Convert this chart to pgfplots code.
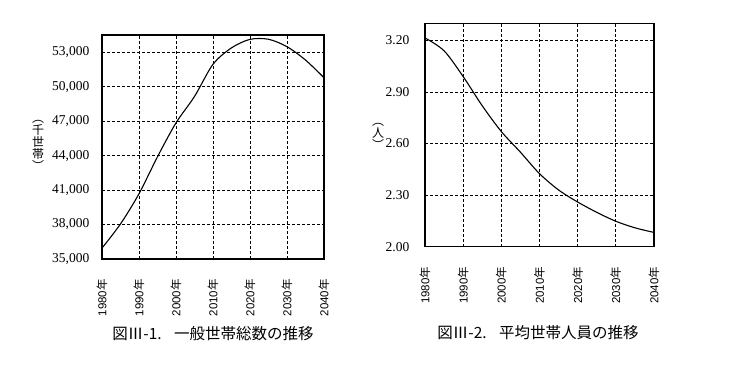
\documentclass[border=0pt]{standalone}
\usepackage{fontspec}
\setmainfont{Liberation Serif}
\newfontfamily\cjk{Noto Sans CJK JP}
\newfontfamily\sans{Liberation Sans}
\usepackage{pgfplots}
\pgfplotsset{compat=1.18}
\pgfplotstableread{
year households
1980 35950
1985 38050
1990 40680
1995 43900
2000 46850
2005 49150
2010 51950
2015 53380
2020 54120
2025 54130
2030 53480
2035 52320
2040 50780
}\tableA
\pgfplotstableread{
year size
1980 3.215
1985 3.14
1990 2.99
1995 2.82
2000 2.67
2005 2.55
2010 2.425
2015 2.33
2020 2.26
2025 2.20
2030 2.148
2035 2.11
2040 2.083
}\tableB
\pgfplotsset{
  common/.style={
    scale only axis,
    anchor=south west,
    xmin=1980, xmax=2040,
    xtick={1980,1990,...,2040},
    xticklabels={1980{\cjk 年},1990{\cjk 年},2000{\cjk 年},2010{\cjk 年},2020{\cjk 年},2030{\cjk 年},2040{\cjk 年}},
    xticklabel style={rotate=90, anchor=east, inner sep=0pt, xshift=-20bp, font=\sans\fontsize{11.5bp}{12bp}\selectfont},
    yticklabel style={anchor=east, inner sep=0pt, font=\fontsize{13.5bp}{14bp}\selectfont},
    /pgf/number format/assume math mode=true,
    scaled ticks=false,
    grid=major,
    major grid style={black, line width=0.8bp, dash pattern=on 3bp off 2bp},
    axis line style={black, line width=1.2bp},
    major tick length=0pt,
  }
}
\begin{document}
\begin{tikzpicture}
\path[use as bounding box] (0,0) rectangle (750bp,375bp);
\begin{axis}[common,
  at={(102bp,116bp)}, width=222bp, height=224bp,
  ymin=35000, ymax=54500,
  ytick={35000,38000,...,53000},
  yticklabel style={xshift=-12.5bp, /pgf/number format/.cd, fixed, 1000 sep={,}},
]
\addplot[black, line width=1.1bp, smooth] table[x=year, y=households] {\tableA};
\end{axis}
\begin{axis}[common,
  at={(425bp,128.3bp)}, width=229bp, height=223.4bp,
  ymin=2.0, ymax=3.3,
  ytick={2.0,2.3,2.6,2.9,3.2},
  yticklabel style={xshift=-15.5bp, /pgf/number format/.cd, fixed, fixed zerofill, precision=2},
]
\addplot[black, line width=1.1bp, smooth] table[x=year, y=size] {\tableB};
\end{axis}
\node[align=center, inner sep=0pt, font=\cjk\fontsize{12bp}{12bp}\selectfont] at (38bp,230bp) {︵\\千\\世\\帯\\︶};
\node[align=center, inner sep=0pt, font=\cjk\fontsize{12bp}{12bp}\selectfont] at (378bp,239bp) {︵\\人\\︶};
\node[inner sep=0pt, font=\cjk\fontsize{15.5bp}{16bp}\selectfont] at (213bp,41bp) {図Ⅲ-1.\hspace{0.8em}一般世帯総数の推移};
\node[inner sep=0pt, font=\cjk\fontsize{15.5bp}{16bp}\selectfont] at (538bp,42bp) {図Ⅲ-2.\hspace{0.8em}平均世帯人員の推移};
\end{tikzpicture}
\end{document}
